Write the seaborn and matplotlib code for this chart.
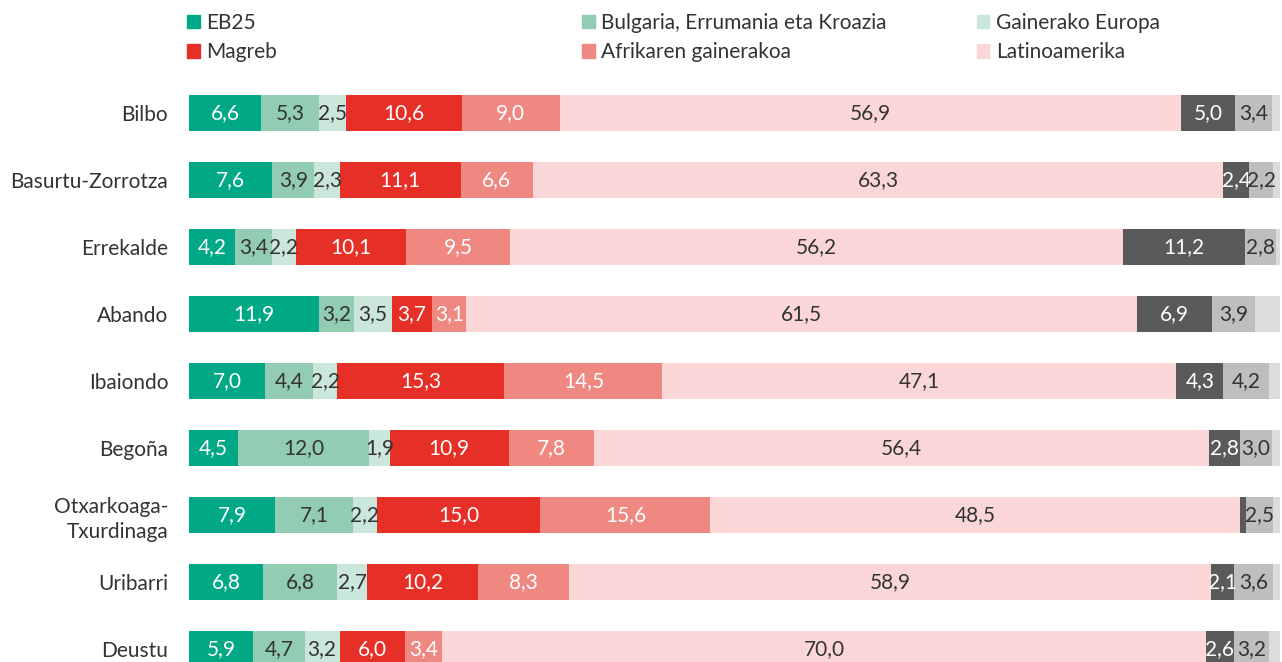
import numpy as np
import pandas as pd
import matplotlib
matplotlib.use("Agg")
import matplotlib.pyplot as plt
import matplotlib.patches as mpatches
import seaborn as sns

# Data (percent of foreign population by origin, per district)
districts = ["Bilbo", "Basurtu-Zorrotza", "Errekalde", "Abando", "Ibaiondo",
             "Begoña", "Otxarkoaga-\nTxurdinaga", "Uribarri", "Deustu"]
eb25 = [6.6, 7.6, 4.2, 11.9, 7.0, 4.5, 7.9, 6.8, 5.9]
bulgaria = [5.3, 3.9, 3.4, 3.2, 4.4, 12.0, 7.1, 6.8, 4.7]
europa_other = [2.5, 2.3, 2.2, 3.5, 2.2, 1.9, 2.2, 2.7, 3.2]
magreb = [10.6, 11.1, 10.1, 3.7, 15.3, 10.9, 15.0, 10.2, 6.0]
afrika_other = [9.0, 6.6, 9.5, 3.1, 14.5, 7.8, 15.6, 8.3, 3.4]
latinoamerika = [56.9, 63.3, 56.2, 61.5, 47.1, 56.4, 48.5, 58.9, 70.0]
asia = [5.0, 2.4, 11.2, 6.9, 4.3, 2.8, 0.6, 2.1, 2.6]
others = [3.4, 2.2, 2.8, 3.9, 4.2, 3.0, 2.5, 3.6, 3.2]
rest = [0.7, 0.6, 0.4, 2.3, 1.0, 0.7, 0.6, 0.6, 1.0]

series_names = ["EB25", "Bulgaria, Errumania eta Kroazia", "Gainerako Europa",
                "Magreb", "Afrikaren gainerakoa", "Latinoamerika",
                "Asia", "Gainerakoak", "Ezezaguna"]
series_values = [eb25, bulgaria, europa_other, magreb, afrika_other,
                 latinoamerika, asia, others, rest]
colors = ["#00a886", "#92cdb3", "#cbe6da", "#e52f27", "#f08882", "#fad7d6",
          "#5a5a5a", "#bebebe", "#dcdcdc"]
text_colors = ["white", "#333333", "#333333", "white", "white", "#333333",
               "white", "#333333", None]
in_legend = 6

sns.set_theme(style="white")
plt.rcParams["font.family"] = ["Lato", "DejaVu Sans"]

df = pd.DataFrame(dict(zip(series_names, series_values)), index=districts)
cum = df.cumsum(axis=1)

fig = plt.figure(figsize=(12.82, 6.62), dpi=100)
W, H = 1282, 662
ax = fig.add_axes([189 / W, 0, 1091 / W, 1 - 80 / H])

# draw cumulative layers from the widest down so each segment shows
for k in range(len(series_names) - 1, -1, -1):
    layer = pd.DataFrame({"district": districts, "value": cum.iloc[:, k].values})
    sns.barplot(data=layer, y="district", x="value", orient="h",
                color=colors[k], saturation=1, width=0.54, ax=ax,
                linewidth=0, order=districts)

# value labels
for i, d in enumerate(districts):
    for k, name in enumerate(series_names):
        v = df.loc[d, name]
        if v < 1.5 or text_colors[k] is None:
            continue
        left = cum.iloc[i, k] - v
        ax.text(left + v / 2, i, f"{v:.1f}".replace(".", ","),
                ha="center", va="center", fontsize=15,
                color=text_colors[k])

ax.set_xlim(0, 100)
ax.set_ylim((662 - 113) / 67, (80 - 113) / 67)
ax.set_xlabel("")
ax.set_ylabel("")
ax.set_xticks([])
ax.tick_params(axis="y", length=0, pad=15, labelsize=15, labelcolor="#333333")
for lbl in ax.get_yticklabels():
    lbl.set_linespacing(1.3)
sns.despine(ax=ax, left=True, bottom=True)

# legend: three columns, each its own legend so the columns sit evenly
handles = [mpatches.Patch(color=colors[k], label=series_names[k]) for k in range(in_legend)]
col_x = [187, 582, 977]
for c in range(3):
    pair = [c, c + 3]
    leg = fig.legend([handles[k] for k in pair], [series_names[k] for k in pair],
                     frameon=False, loc="upper left",
                     bbox_to_anchor=(col_x[c] / W, 1 - 13 / H),
                     fontsize=15, handlelength=0.6, handleheight=0.6,
                     handletextpad=0.3, labelspacing=0.45,
                     borderaxespad=0, borderpad=0)
    for t in leg.get_texts():
        t.set_color("#333333")

fig.savefig("out.png", dpi=100)
